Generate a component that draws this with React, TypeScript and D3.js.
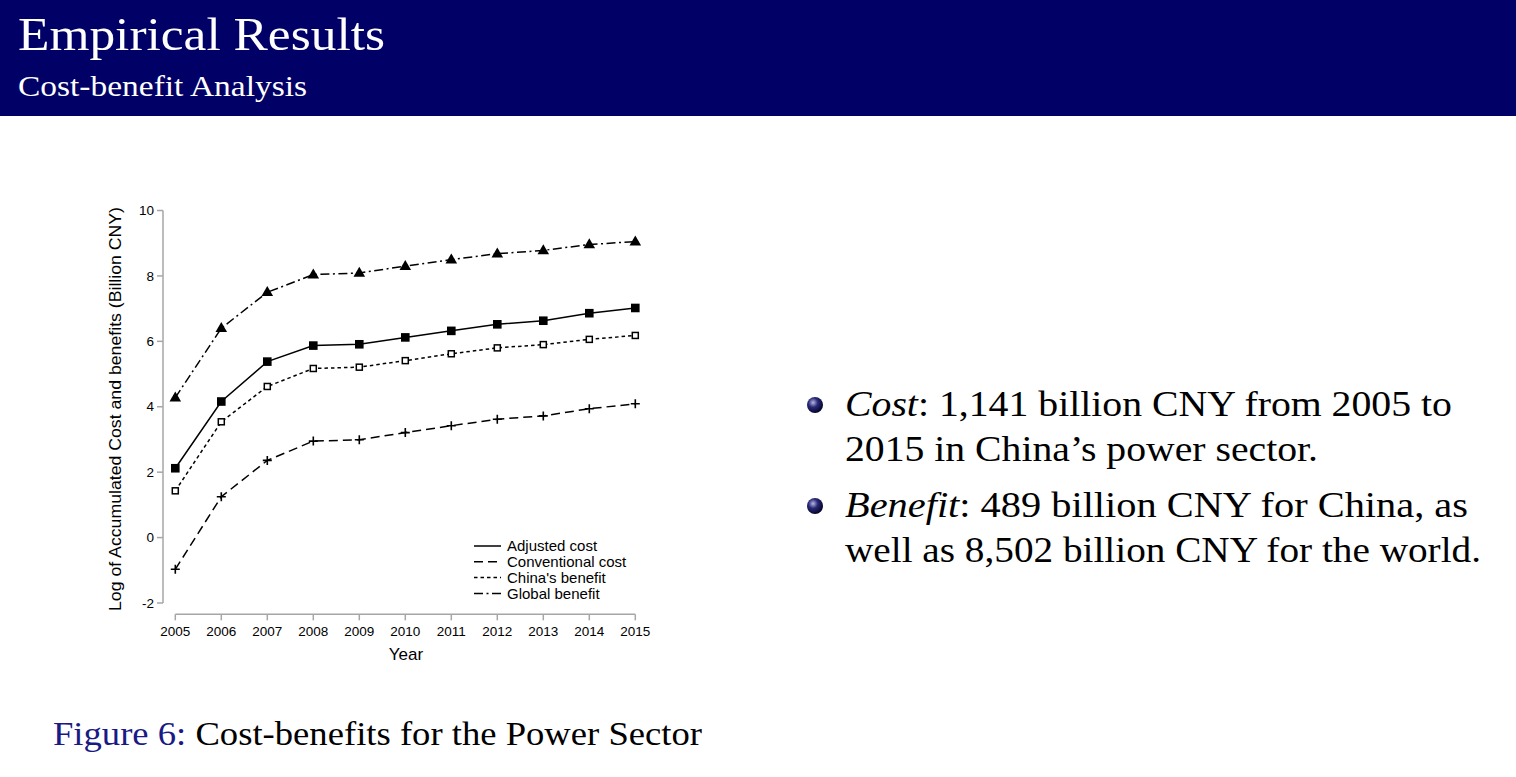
import React from "react";
import * as d3 from "d3";

const years = [2005, 2006, 2007, 2008, 2009, 2010, 2011, 2012, 2013, 2014, 2015];
const adjustedCost = [2.12, 4.16, 5.38, 5.87, 5.91, 6.12, 6.32, 6.52, 6.63, 6.86, 7.02];
const conventionalCost = [-0.97, 1.25, 2.36, 2.95, 2.99, 3.21, 3.42, 3.62, 3.72, 3.94, 4.09];
const chinaBenefit = [1.43, 3.54, 4.62, 5.17, 5.21, 5.41, 5.62, 5.8, 5.9, 6.06, 6.18];
const globalBenefit = [4.28, 6.4, 7.5, 8.04, 8.09, 8.3, 8.5, 8.68, 8.78, 8.96, 9.05];
const yTicks = [10, 8, 6, 4, 2, 0, -2];
const seriesNames = ["Adjusted cost", "Conventional cost", "China's benefit", "Global benefit"];

const NAVY = "#000066";

export default function App() {
  const x = d3.scaleLinear().domain([2005, 2015]).range([175.3, 635.3]);
  const y = d3.scaleLinear().domain([-2, 10]).range([603, 210.5]);

  const line = d3
    .line<number>()
    .x((_, i) => x(years[i]))
    .y((d) => y(d));

  const series = [
    { name: seriesNames[0], values: adjustedCost, dash: "", marker: "fsq" },
    { name: seriesNames[1], values: conventionalCost, dash: "9,5", marker: "plus" },
    { name: seriesNames[2], values: chinaBenefit, dash: "3.5,3", marker: "osq" },
    { name: seriesNames[3], values: globalBenefit, dash: "9,3.5,2,3.5", marker: "tri" },
  ];

  const marker = (type: string, cx: number, cy: number, key: string) => {
    if (type === "fsq") return <rect key={key} x={cx - 4.3} y={cy - 4.3} width={8.6} height={8.6} fill="#000" />;
    if (type === "osq")
      return <rect key={key} x={cx - 3} y={cy - 3} width={6} height={6} fill="#fff" stroke="#000" strokeWidth={1.5} />;
    if (type === "tri") {
      const p = d3.symbol(d3.symbolTriangle, 58)();
      return <path key={key} d={p || ""} transform={`translate(${cx},${cy + 0.5})`} fill="#000" />;
    }
    return (
      <path
        key={key}
        d={`M${cx - 4.5},${cy}H${cx + 4.5}M${cx},${cy - 4.5}V${cy + 4.5}`}
        stroke="#000"
        strokeWidth={1.6}
        fill="none"
      />
    );
  };

  const axisColor = "#a6a6a6";
  const sans = "'Liberation Sans', Arial, sans-serif";
  const serif = "'Liberation Serif', 'Times New Roman', serif";

  return (
    <svg
      width={1516}
      height={777}
      style={{ position: "absolute", left: 0, top: 0, background: "#fff" }}
      xmlns="http://www.w3.org/2000/svg"
    >
      <defs>
        <radialGradient id="ball" cx="38%" cy="35%" r="65%">
          <stop offset="0%" stopColor="#b8b8e0" />
          <stop offset="45%" stopColor="#2a2a7a" />
          <stop offset="100%" stopColor="#05052a" />
        </radialGradient>
      </defs>
      <rect x={0} y={0} width={1516} height={777} fill="#fff" />
      {/* header */}
      <rect x={0} y={0} width={1516} height={116} fill={NAVY} />
      <text x={18} y={50} fill="#fff" fontFamily={serif} fontSize={47} textLength={367} lengthAdjust="spacingAndGlyphs">
        Empirical Results
      </text>
      <text x={18} y={96} fill="#fff" fontFamily={serif} fontSize={29} textLength={289} lengthAdjust="spacingAndGlyphs">
        Cost-benefit Analysis
      </text>

      {/* y axis */}
      <line x1={163} x2={163} y1={y(10)} y2={y(-2)} stroke={axisColor} strokeWidth={1.5} />
      {yTicks.map((t) => (
        <g key={t}>
          <line x1={157} x2={163} y1={y(t)} y2={y(t)} stroke={axisColor} strokeWidth={1.5} />
          <text x={154} y={y(t)} dy="0.35em" textAnchor="end" fontFamily={sans} fontSize={13.5} fill="#000">
            {t}
          </text>
        </g>
      ))}
      {/* x axis */}
      <line x1={x(2005)} x2={x(2015)} y1={614.3} y2={614.3} stroke={axisColor} strokeWidth={1.5} />
      {years.map((yr) => (
        <g key={yr}>
          <line x1={x(yr)} x2={x(yr)} y1={614.3} y2={620.3} stroke={axisColor} strokeWidth={1.5} />
          <text x={x(yr)} y={631} dy="0.35em" textAnchor="middle" fontFamily={sans} fontSize={13.5} fill="#000">
            {yr}
          </text>
        </g>
      ))}
      <text x={406} y={660} textAnchor="middle" fontFamily={sans} fontSize={17} fill="#000">
        Year
      </text>
      <text
        transform={`translate(121,${409}) rotate(-90)`}
        textAnchor="middle"
        fontFamily={sans}
        fontSize={16.5}
        fill="#000"
        textLength={404}
        lengthAdjust="spacingAndGlyphs"
      >
        Log of Accumulated Cost and benefits (Billion CNY)
      </text>

      {/* lines */}
      {series.map((s) => (
        <path
          key={s.name}
          d={line(s.values) || ""}
          fill="none"
          stroke="#000"
          strokeWidth={1.5}
          strokeDasharray={s.dash || undefined}
        />
      ))}
      {series.map((s) => s.values.map((v, i) => marker(s.marker, x(years[i]), y(v), s.name + i)))}

      {/* legend */}
      {series.map((s, i) => (
        <g key={"lg" + s.name}>
          <line
            x1={474}
            x2={501}
            y1={546 + i * 15.8}
            y2={546 + i * 15.8}
            stroke="#000"
            strokeWidth={1.5}
            strokeDasharray={s.dash || undefined}
          />
          <text x={507} y={546 + i * 15.8} dy="0.35em" fontFamily={sans} fontSize={15} fill="#000">
            {s.name}
          </text>
        </g>
      ))}

      {/* bullets */}
      <circle cx={815} cy={405} r={8} fill="url(#ball)" />
      <circle cx={815} cy={506} r={8} fill="url(#ball)" />
      <text x={845} y={416} fontFamily={serif} fontSize={35} fill="#000" textLength={607} lengthAdjust="spacingAndGlyphs">
        <tspan fontStyle="italic">Cost</tspan>: 1,141 billion CNY from 2005 to
      </text>
      <text x={845} y={461} fontFamily={serif} fontSize={35} fill="#000" textLength={473} lengthAdjust="spacingAndGlyphs">
        2015 in China’s power sector.
      </text>
      <text x={845} y={517} fontFamily={serif} fontSize={35} fill="#000" textLength={623} lengthAdjust="spacingAndGlyphs">
        <tspan fontStyle="italic">Benefit</tspan>: 489 billion CNY for China, as
      </text>
      <text x={845} y={562} fontFamily={serif} fontSize={35} fill="#000" textLength={636} lengthAdjust="spacingAndGlyphs">
        well as 8,502 billion CNY for the world.
      </text>

      {/* caption */}
      <text x={53} y={745} fontFamily={serif} fontSize={34} fill="#000" textLength={649} lengthAdjust="spacingAndGlyphs">
        <tspan fill="#1a1a85">Figure 6:</tspan> Cost-benefits for the Power Sector
      </text>
    </svg>
  );
}
